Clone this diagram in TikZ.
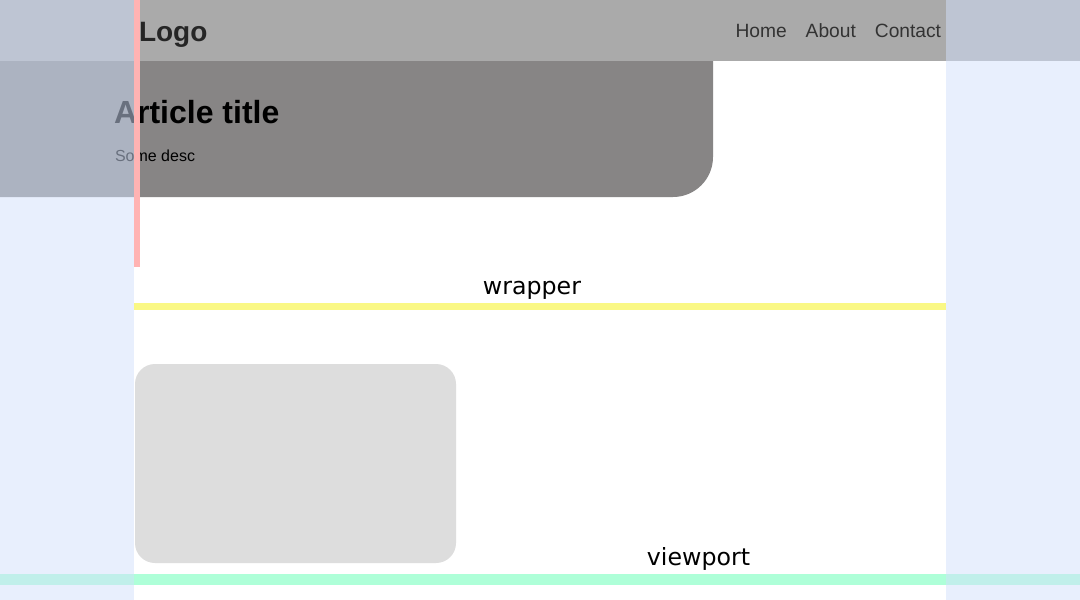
\documentclass[tikz,border=0pt]{standalone}
\usepackage{fontspec}
\setmainfont{Liberation Sans}
\newfontfamily\guidefont{DejaVu Sans}
\usepackage{tikz}
\usetikzlibrary{positioning}
\tikzset{inner sep=0pt, outer sep=0pt}
\definecolor{bandblue}{RGB}{210,225,253}
\definecolor{headgray}{RGB}{170,170,170}
\definecolor{herogray}{RGB}{135,133,133}
\definecolor{cardgray}{RGB}{221,221,221}
\definecolor{guidepink}{RGB}{255,179,179}
\definecolor{guideyellow}{RGB}{250,248,133}
\definecolor{guidegreen}{RGB}{174,255,216}
\newcommand{\pxsize}[1]{\fontsize{#1}{#1}\selectfont}

\begin{document}
\begin{tikzpicture}[x=1pt, y=-1pt,
		navlink/.style={text=black!80, font=\pxsize{19.2}},
		guide/.style={font=\guidefont\pxsize{23.7}}]
			\useasboundingbox (0,0) rectangle (1080,600);
			\fill[white] (0,0) rectangle (1080,600);
			% header and hero
			\fill[headgray] (0,0) rectangle (1080,61);
			\fill[herogray] (0,61) -- (713,61) -- (713,157)
				.. controls (713,179.1) and (695.1,197) .. (673,197) -- (0,197) -- cycle;
			\node (logo) 		[anchor=base west, font=\bfseries\pxsize{28}, text=black!85] at (139,41) {Logo};
			\node (home) 		[navlink, anchor=base west] at (735.5,37.5) {Home};
			\node (about) 	[navlink, base right=19pt of home] {About};
			\node (contact) [navlink, base right=19pt of about] {Contact};
			\node (title) 	[anchor=base west, font=\bfseries\pxsize{32}] at (114,123) {Article title};
			\node (desc) 		[anchor=base west, font=\pxsize{16}] at (115,161) {Some desc};
			% card
			\fill[cardgray, rounded corners=20pt] (135,364) rectangle (456,563);
			% guides
			\fill[guideyellow] (134,303) rectangle (946,310);
			\fill[guidegreen] (0,574) rectangle (1080,585);
			\node (wrapper) 	[guide, anchor=base] at (532,294) {wrapper};
			\node (viewport) 	[guide, anchor=base] at (698.5,565) {viewport};
			% side bands
			\fill[bandblue, opacity=.5] (0,0) rectangle (134,600);
			\fill[bandblue, opacity=.5] (946,0) rectangle (1080,600);
			\fill[guidepink] (134,0) rectangle (140,267);
		\end{tikzpicture}
\end{document}
